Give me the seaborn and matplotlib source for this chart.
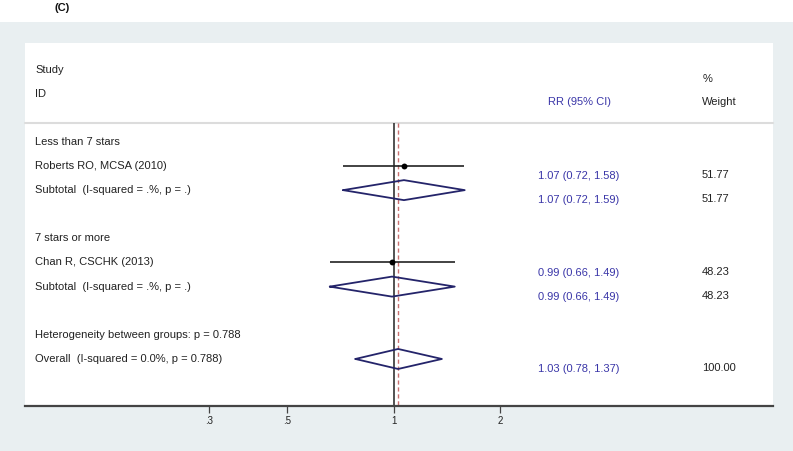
import numpy as np
import pandas as pd
import matplotlib
matplotlib.use("Agg")
import matplotlib.pyplot as plt
import matplotlib.transforms as mtransforms
from matplotlib.patches import Rectangle
import seaborn as sns

# ---------------- data ----------------
row_labels = [
    "Less than 7 stars",
    "Roberts RO, MCSA (2010)",
    "Subtotal  (I-squared = .%, p = .)",
    "",
    "7 stars or more",
    "Chan R, CSCHK (2013)",
    "Subtotal  (I-squared = .%, p = .)",
    "",
    "Heterogeneity between groups: p = 0.788",
    "Overall  (I-squared = 0.0%, p = 0.788)",
]
row_kind = ["group", "study", "subtotal", "blank", "group", "study",
            "subtotal", "blank", "note", "overall"]
rr = [np.nan, 1.07, 1.07, np.nan, np.nan, 0.99, 0.99, np.nan, np.nan, 1.03]
ci_lo = [np.nan, 0.72, 0.72, np.nan, np.nan, 0.66, 0.66, np.nan, np.nan, 0.78]
ci_hi = [np.nan, 1.58, 1.59, np.nan, np.nan, 1.49, 1.49, np.nan, np.nan, 1.37]
weight = [np.nan, 51.77, 51.77, np.nan, np.nan, 48.23, 48.23, np.nan, np.nan, 100.00]
x_ticks = [0.3, 0.5, 1, 2]
x_tick_labels = [".3", ".5", "1", "2"]
overall_rr = 1.03

df = pd.DataFrame({"label": row_labels, "kind": row_kind, "rr": rr,
                   "lo": ci_lo, "hi": ci_hi, "weight": weight})
df["row"] = np.arange(len(df))

# ---------------- style ----------------
sns.set_theme(style="white")
plt.rcParams["font.family"] = ["Liberation Sans", "DejaVu Sans"]

W, H = 793, 451
fig = plt.figure(figsize=(W / 100, H / 100), dpi=100)
fig.patch.set_facecolor("white")
# grey background panel
fig.add_artist(Rectangle((0, 0), 1, (H - 22) / H, transform=fig.transFigure,
                         facecolor="#e9eff1", edgecolor="none", zorder=0))
fig.text(54 / W, 1 - 8 / H, "(C)", fontsize=8, fontweight="bold",
         ha="left", va="center", color="#111111")

left_px, right_px, top_px, bot_px = 25, 773, 43, 406
ax = fig.add_axes([left_px / W, (H - bot_px) / H, (right_px - left_px) / W,
                   (bot_px - top_px) / H])
ax.set_facecolor("white")
ax.set_xscale("log")
ax.set_xlim(0.0906, 11.85)
ax.set_ylim(10.95, -4.1)

trans = mtransforms.blended_transform_factory(ax.transAxes, ax.transData)

def axfrac(px):
    return (px - left_px) / (right_px - left_px)

txt_col = "#222222"
rr_col = "#3a36a8"
navy = "#24246a"
fs = 8

# header
ax.text(axfrac(35), -3, "Study", transform=trans, fontsize=fs, color=txt_col, va="center")
ax.text(axfrac(35), -2, "ID", transform=trans, fontsize=fs, color=txt_col, va="center")
ax.text(axfrac(580), -1.65, "RR (95% CI)", transform=trans, fontsize=fs, color=rr_col,
        va="center", ha="center")
ax.text(axfrac(703), -2.6, "%", transform=trans, fontsize=fs, color=txt_col, va="center")
ax.text(axfrac(702), -1.65, "Weight", transform=trans, fontsize=fs, color=txt_col, va="center")
ax.plot([0, 1], [-0.8, -0.8], transform=trans, color="#dcdcdc", lw=1.5, clip_on=False)

# reference lines
ax.vlines(1, -0.8, 10.95, color="#333333", lw=1.2, zorder=2)
ax.vlines(overall_rr, -0.8, 10.95, color="#c87070", lw=1.0, linestyles=(0, (3, 2)), zorder=2)

# rows
for _, r in df.iterrows():
    if r["label"]:
        ax.text(axfrac(35), r["row"], r["label"], transform=trans, fontsize=fs,
                color=txt_col, va="center")
    if r["kind"] == "study":
        ax.hlines(r["row"], r["lo"], r["hi"], color="#222222", lw=1.2, zorder=3)
    if r["kind"] in ("subtotal", "overall"):
        h = 0.415
        xs = [r["lo"], r["rr"], r["hi"], r["rr"], r["lo"]]
        ys = [r["row"], r["row"] - h, r["row"], r["row"] + h, r["row"]]
        ax.plot(xs, ys, color=navy, lw=1.3, zorder=3)
    if not np.isnan(r["rr"]):
        ax.text(axfrac(538), r["row"] + 0.42,
                f"{r['rr']:.2f} ({r['lo']:.2f}, {r['hi']:.2f})",
                transform=trans, fontsize=fs, color=rr_col, va="center")
        ax.text(axfrac(702), r["row"] + 0.38, f"{r['weight']:.2f}",
                transform=trans, fontsize=fs, color=txt_col, va="center")

studies = df[df["kind"] == "study"]
sns.scatterplot(data=studies, x="rr", y="row", ax=ax, color="black", s=18,
                marker="o", edgecolor="black", linewidth=0, zorder=4, legend=False)

# axis styling
for s in ["top", "right", "left"]:
    ax.spines[s].set_visible(False)
ax.spines["bottom"].set_color("#444444")
ax.spines["bottom"].set_linewidth(1.6)
ax.set_yticks([])
ax.set_xticks(x_ticks)
ax.set_xticklabels(x_tick_labels)
ax.xaxis.set_minor_locator(matplotlib.ticker.NullLocator())
ax.tick_params(axis="x", which="major", bottom=True, length=5, width=0.9,
               color="#444444", labelsize=7, labelcolor=txt_col, pad=2)
ax.set_xlabel("")
ax.set_ylabel("")

fig.savefig("out.png", dpi=100, facecolor=fig.get_facecolor())
